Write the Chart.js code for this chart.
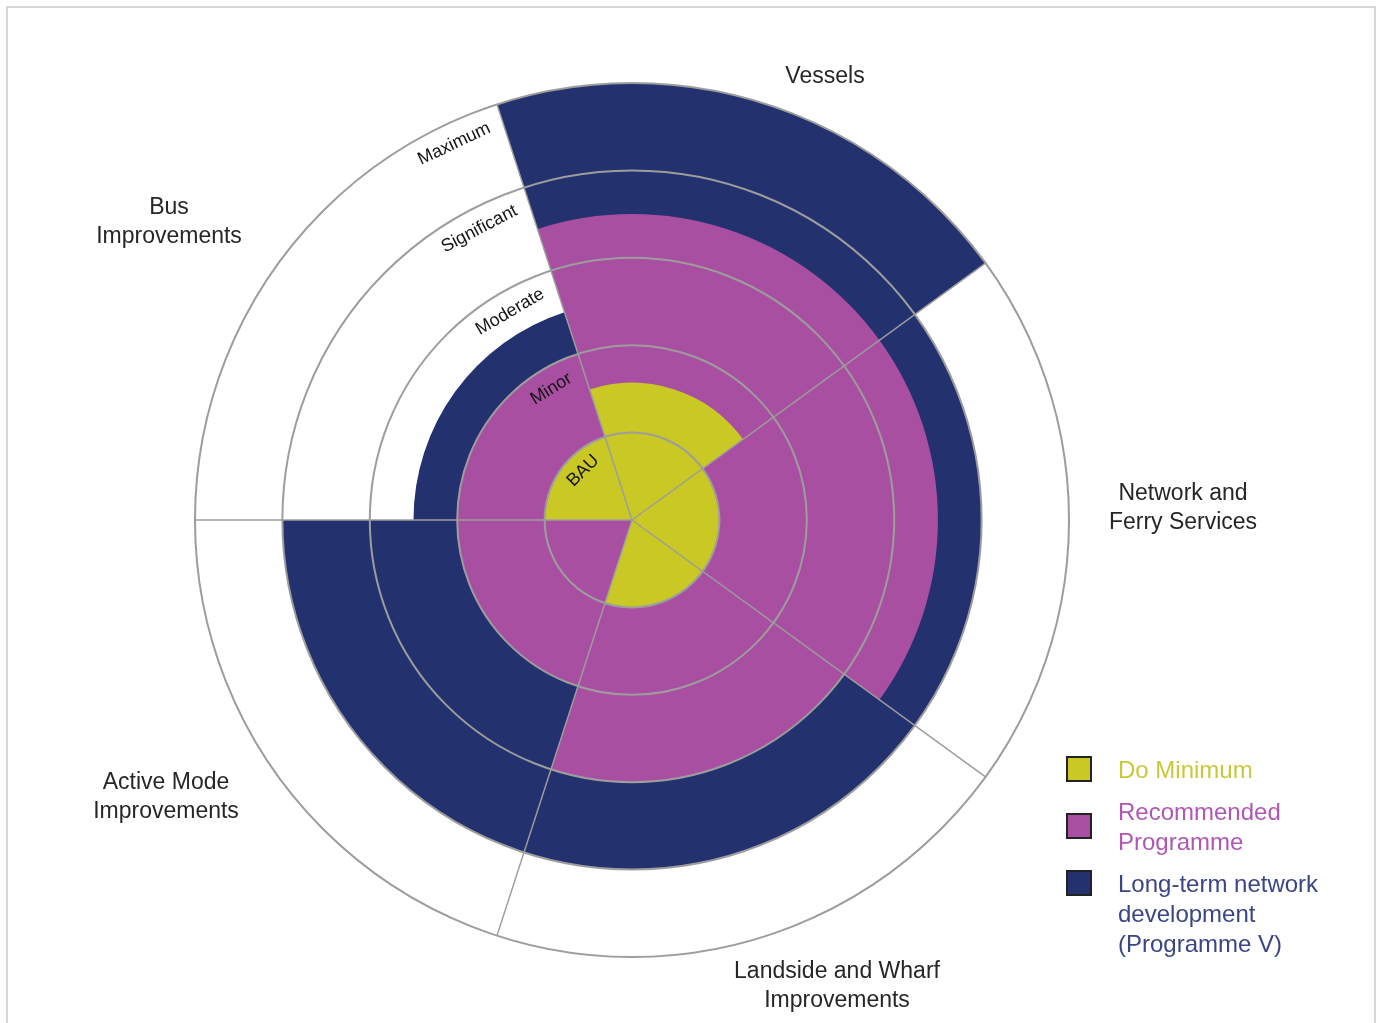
<!DOCTYPE html>
<html>
<head>
<meta charset="utf-8">
<title>Programme coverage</title>
<script src="https://cdn.jsdelivr.net/npm/chart.js@4.4.1/dist/chart.umd.min.js"></script>
<style>
  html, body { margin: 0; padding: 0; background: #fff; }
  #wrap { position: relative; width: 1383px; height: 1023px; overflow: hidden; }
  #frame { position: absolute; left: 6px; top: 6px; width: 1370px; height: 1040px;
           border: 2px solid #d6d6d6; box-sizing: border-box; pointer-events: none; }
  canvas { position: absolute; left: 0; top: 0; }
  #legend { position: absolute; left: 1064px; top: 755px; font-family: "Liberation Sans", Arial, sans-serif;
            font-size: 24px; line-height: 30px; }
  .item { position: relative; padding-left: 54px; margin-bottom: 12px; }
  .swatch { position: absolute; left: 2px; top: 3px; width: 22px; height: 22px; border: 2px solid #222; }
</style>
</head>
<body>
<div id="wrap">
  <canvas id="chart" width="1383" height="1023"></canvas>
  <div id="legend"></div>
  <div id="frame"></div>
</div>
<script>
// Sectors, clockwise from the top-left divider
const categories = [
  ['Vessels'],
  ['Network and', 'Ferry Services'],
  ['Landside and Wharf', 'Improvements'],
  ['Active Mode', 'Improvements'],
  ['Bus', 'Improvements']
];

// Level of intervention per sector (0 = none, 1 = BAU ... 5 = Maximum)
const doMinimum   = [1.57, 1, 1, 0, 1];
const recommended = [3.5, 3.5, 3, 2, 2];
const longTerm    = [5, 4, 4, 4, 2.5];

// Ring names, one per unit of the radial scale
const levelLabels = ['BAU', 'Minor', 'Moderate', 'Significant', 'Maximum'];

// Series names (legend lines)
const seriesNames = [
  ['Do Minimum'],
  ['Recommended', 'Programme'],
  ['Long-term network', 'development', '(Programme V)']
];

// Styling kept apart from the data
const seriesColors = ['#c9c825', '#a94fa2', '#23316f'];
const legendTextColors = ['#c9c83a', '#b057b4', '#3a4585'];
const gridColor = '#9d9d9d';
const FONT = '"Liberation Sans", Arial, sans-serif';

// Offsets (px from the chart centre) for each sector title
const titleOffsets = [
  [193, -443],
  [551, -12],
  [205, 466],
  [-466, 277],
  [-463, -298]
];

const sectorTitles = {
  id: 'sectorTitles',
  afterDraw(chart) {
    const scale = chart.scales.r;
    const ctx = chart.ctx;
    const cx = scale.xCenter, cy = scale.yCenter;
    ctx.save();
    ctx.fillStyle = '#262626';
    ctx.font = '23px ' + FONT;
    ctx.textAlign = 'center';
    ctx.textBaseline = 'middle';
    const lh = 29;
    chart.data.labels.forEach((lines, i) => {
      const [dx, dy] = titleOffsets[i];
      const y0 = cy + dy - (lines.length - 1) * lh / 2;
      lines.forEach((t, k) => ctx.fillText(t, cx + dx, y0 + k * lh));
    });
    ctx.restore();
  }
};

// Ring names written along each circle, just left of the first divider
const ringNames = {
  id: 'ringNames',
  afterDraw(chart) {
    const scale = chart.scales.r;
    const ctx = chart.ctx;
    const cx = scale.xCenter, cy = scale.yCenter;
    const divider = scale.getIndexAngle(0) - Math.PI / 2;
    ctx.save();
    ctx.fillStyle = '#151515';
    ctx.font = '18px ' + FONT;
    ctx.textAlign = 'center';
    ctx.textBaseline = 'middle';
    levelLabels.forEach((name, i) => {
      const ringR = scale.getDistanceFromCenterForValue(i + 1);
      const r = ringR - (i === 0 ? 18 : 21);
      const w = ctx.measureText(name).width;
      const a = divider - (w / 2 + 14) / r;
      ctx.save();
      ctx.translate(cx + r * Math.cos(a), cy + r * Math.sin(a));
      ctx.rotate(a + Math.PI / 2);
      ctx.fillText(name, 0, 0);
      ctx.restore();
    });
    ctx.restore();
  }
};

const datasets = [doMinimum, recommended, longTerm].map((vals, i) => ({
  label: seriesNames[i].join(' '),
  data: vals,
  backgroundColor: seriesColors[i],
  borderWidth: 0
}));

new Chart(document.getElementById('chart'), {
  type: 'polarArea',
  data: { labels: categories, datasets },
  options: {
    responsive: false,
    animation: false,
    layout: { padding: { left: 195, top: 83, right: 314, bottom: 66 } },
    plugins: { legend: { display: false }, tooltip: { enabled: false } },
    scales: {
      r: {
        min: 0,
        max: 5,
        startAngle: -18,
        ticks: { display: false, stepSize: 1, z: 1 },
        grid: { color: gridColor, lineWidth: 2, circular: true, z: 1 },
        angleLines: { display: true, color: gridColor, lineWidth: 1.5 },
        pointLabels: { display: false }
      }
    }
  },
  plugins: [sectorTitles, ringNames]
});

// Legend
const legend = document.getElementById('legend');
seriesNames.forEach((lines, i) => {
  const item = document.createElement('div');
  item.className = 'item';
  item.style.color = legendTextColors[i];
  const sw = document.createElement('div');
  sw.className = 'swatch';
  sw.style.background = seriesColors[i];
  sw.style.top = (lines.length === 2 ? 16 : 1) + 'px';
  item.appendChild(sw);
  lines.forEach(t => {
    const d = document.createElement('div');
    d.textContent = t;
    item.appendChild(d);
  });
  legend.appendChild(item);
});
</script>
</body>
</html>
